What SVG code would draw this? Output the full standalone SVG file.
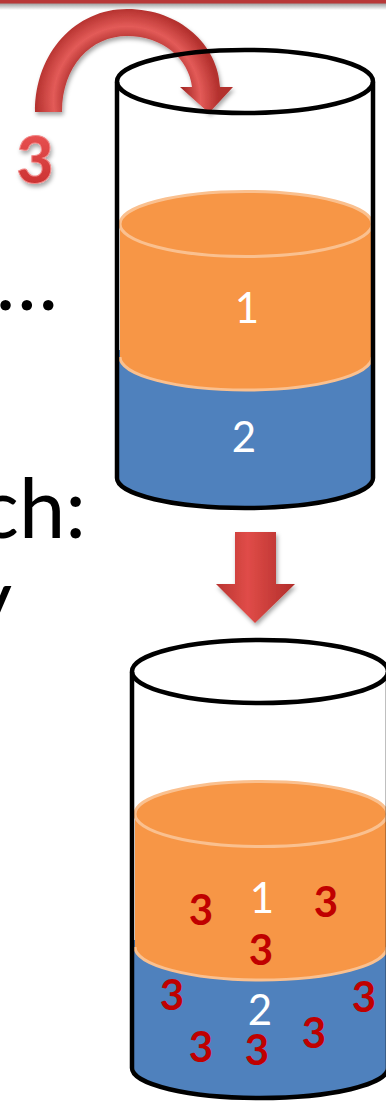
<svg xmlns="http://www.w3.org/2000/svg" xmlns:xlink="http://www.w3.org/1999/xlink" width="386" height="1108" viewBox="0 0 386 1108">
  <style>
    .slide-text { font-family: Lato, "Open Sans", sans-serif; font-size: 83px; fill: #000; }
    .layer-label { font-family: Lato, "Open Sans", sans-serif; font-size: 42px; fill: #fff; text-anchor: middle; }
    .item { font-family: Lato, "Open Sans", sans-serif; font-weight: bold; font-size: 42px; fill: #c00000; text-anchor: middle; }
    .rim { fill: none; stroke: #000; stroke-width: 4.5; }
    .liquid-edge { stroke: #fac08f; stroke-width: 3; }
  </style>
  <defs>
    <filter id="soft-shadow" x="-20%" y="-20%" width="140%" height="150%">
      <feDropShadow dx="1.5" dy="3" stdDeviation="2" flood-color="#000" flood-opacity="0.35"/>
    </filter>
    <linearGradient id="bar-shade" x1="0" y1="0" x2="0" y2="1">
      <stop offset="0" stop-color="#999"/>
      <stop offset="1" stop-color="#fff"/>
    </linearGradient>
    <radialGradient id="tube" gradientUnits="userSpaceOnUse" cx="127" cy="100" r="92">
      <stop offset="0.62" stop-color="#a82a28"/>
      <stop offset="0.8" stop-color="#e35b58"/>
      <stop offset="1" stop-color="#b3302d"/>
    </radialGradient>
    <linearGradient id="shaft" x1="0" y1="0" x2="1" y2="0">
      <stop offset="0" stop-color="#b93431"/>
      <stop offset="0.4" stop-color="#e04c48"/>
      <stop offset="1" stop-color="#b02d2a"/>
    </linearGradient>
    <linearGradient id="glyph-red" x1="0" y1="0" x2="0" y2="1">
      <stop offset="0" stop-color="#f05a5a"/>
      <stop offset="1" stop-color="#c42a2a"/>
    </linearGradient>

    <!-- a glass can holding two stacked layers -->
    <g id="can-body">
      <!-- blue bottom layer -->
      <path d="M119,350 L119,478 A126,30 0 0 0 371,478 L371,350 Z" fill="#4f81bd"/>
      <!-- orange upper layer -->
      <path d="M120,224 L120,357 A126,33 0 0 0 372,357 L372,224 Z" fill="#f79646"/>
      <path d="M120,357 A126,33 0 0 0 372,357" fill="none" class="liquid-edge"/>
      <ellipse cx="246" cy="224" rx="126" ry="32.5" fill="#f79646" class="liquid-edge"/>
      <!-- glass outline -->
      <path d="M117,82 L117,478 A128,30 0 0 0 373,478 L373,82" class="rim"/>
      <ellipse cx="245" cy="81.5" rx="128" ry="31.5" class="rim"/>
    </g>
  </defs>

  <rect width="386" height="1108" fill="#fff"/>

  <!-- title rule along the top edge -->
  <g id="top-bar">
    <rect x="0" y="3" width="386" height="7" fill="url(#bar-shade)"/>
    <rect x="0" y="0" width="386" height="3.5" fill="#b83838"/>
  </g>

  <!-- slide body text, running off the left edge -->
  <g id="body-text">
    <text class="slide-text" x="58" y="310" text-anchor="end">a…</text>
    <text class="slide-text" x="86" y="538" text-anchor="end">ch:</text>
    <text class="slide-text" x="12" y="628" text-anchor="end">y</text>
  </g>

  <!-- incoming item -->
  <g id="new-item">
    <text x="35" y="183" text-anchor="middle" font-family="Lato, 'Open Sans', sans-serif" font-weight="900" font-size="64" fill="url(#glyph-red)" stroke="#f28b8b" stroke-width="1" filter="url(#soft-shadow)">3</text>
  </g>

  <g id="connectors">
    <!-- curved arrow dropping the item into the can -->
    <path id="insert-arrow" d="M35,112 C35,52 76,9 127,9 C180,9 218,45 220,87 L233,87 L209,113 L180,87 L192,87 C189,59 163,36 127,36 C91,36 62,66 62,112 Z" fill="url(#tube)" filter="url(#soft-shadow)"/>
    <!-- straight arrow between the two states -->
    <path id="result-arrow" d="M235,532 L276,532 L276,584 L295,584 L255,623 L216,584 L235,584 Z" fill="url(#shaft)" filter="url(#soft-shadow)"/>
  </g>

  <!-- can before the insert -->
  <g id="can-before">
    <use xlink:href="#can-body" href="#can-body"/>
    <text class="layer-label" x="247" y="323">1</text>
    <text class="layer-label" x="244" y="452">2</text>
  </g>

  <!-- can after the insert: the item is spread through both layers -->
  <g id="can-after">
    <use xlink:href="#can-body" href="#can-body" transform="translate(15,590)"/>
    <text class="layer-label" x="262" y="913">1</text>
    <text class="layer-label" x="260" y="1025">2</text>
    <text class="item" x="201" y="925">3</text>
    <text class="item" x="326" y="917">3</text>
    <text class="item" x="261" y="965">3</text>
    <text class="item" x="172" y="1010">3</text>
    <text class="item" x="364" y="1012">3</text>
    <text class="item" x="201" y="1062">3</text>
    <text class="item" x="257" y="1065">3</text>
    <text class="item" x="314" y="1048">3</text>
  </g>
</svg>
